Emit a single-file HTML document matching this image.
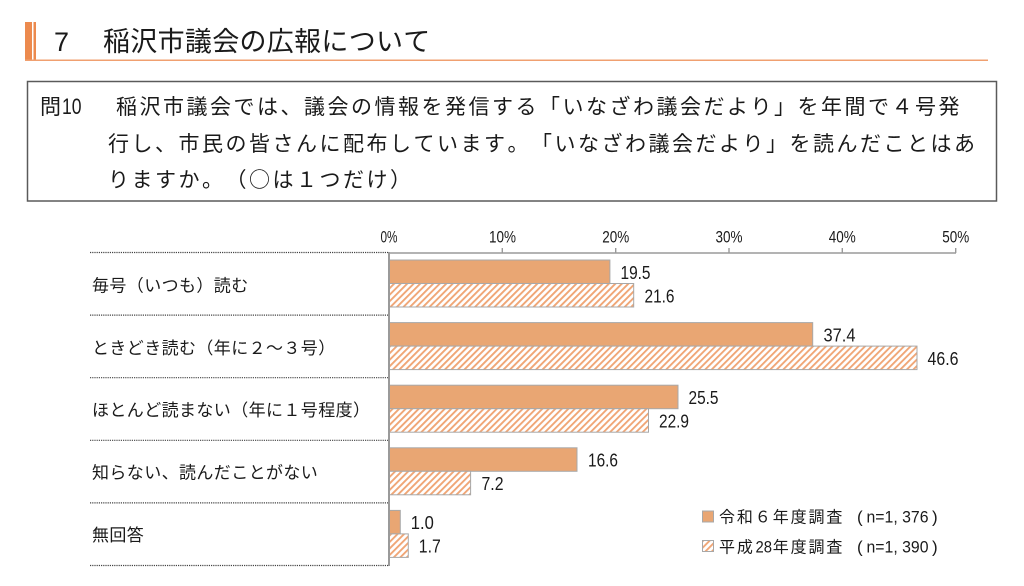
<!DOCTYPE html>
<html><head><meta charset="utf-8">
<style>
html,body{margin:0;padding:0;background:#fff;}
svg{display:block;}
text{text-spacing-trim:space-all;font-kerning:none;}
.jp{font-family:"Noto Sans CJK JP","Liberation Sans",sans-serif;fill:#1a1a1a;}
.num{font-family:"Liberation Sans",sans-serif;fill:#1a1a1a;}
</style></head>
<body>
<svg width="1024" height="586" viewBox="0 0 1024 586" xmlns="http://www.w3.org/2000/svg">
<defs>
<pattern id="hatch" patternUnits="userSpaceOnUse" width="4.6" height="10" patternTransform="rotate(45)">
<rect x="0" y="0" width="4.6" height="10" fill="#ffffff"/>
<rect x="0" y="0" width="1.9" height="10" fill="#f0a676"/>
</pattern>
</defs>

<!-- header -->
<rect x="25" y="22" width="7" height="38" fill="#ec8a4e"/>
<rect x="33.5" y="22" width="2.5" height="38" fill="#ec8a4e"/>
<rect x="25" y="59.5" width="963" height="1.5" fill="#f0a070"/>
<text class="num" x="54" y="51" font-size="27">7</text>
<text class="jp" x="103 130.3 157.6 184.9 212.2 239.5 266.8 294.1 321.4 348.7 376 403.3" y="51" font-size="27">稲沢市議会の広報について</text>

<!-- question box -->
<rect x="27.5" y="81.5" width="969" height="119.5" fill="none" stroke="#5a5a5a" stroke-width="1.5"/>
<text class="jp" x="40" y="114" font-size="21">問</text>
<text class="num" x="62" y="114" font-size="22" textLength="19.5" lengthAdjust="spacingAndGlyphs">10</text>
<text class="jp" x="116 139.5 163 186.5 210 233.5 257 280.5 304 327.5 351 374.5 398 421.5 445 468.5 492 515.5 539 562.5 586 609.5 633 656.5 680 703.5 727 750.5 774 797.5 821 844.5 868 891.5 915 938.5" y="114" font-size="21">稲沢市議会では、議会の情報を発信する「いなざわ議会だより」を年間で４号発</text>
<text class="jp" x="108 131.5 155 178.5 202 225.5 249 272.5 296 319.5 343 366.5 390 413.5 437 460.5 484 507.5 531 554.5 578 601.5 625 648.5 672 695.5 719 742.5 766 789.5 813 836.5 860 883.5 907 930.5 954" y="151" font-size="21">行し、市民の皆さんに配布しています。「いなざわ議会だより」を読んだことはあ</text>
<text class="jp" x="108 131.5 155 178.5 202 225.5 249 272.5 296 319.5 343 366.5 390" y="187" font-size="21">りますか。（○は１つだけ）</text>

<!-- tick labels -->
<g class="num" font-size="17">
<text x="380.5" y="242.5" textLength="17" lengthAdjust="spacingAndGlyphs">0%</text>
<text x="489" y="242.5" textLength="27" lengthAdjust="spacingAndGlyphs">10%</text>
<text x="602.2" y="242.5" textLength="27" lengthAdjust="spacingAndGlyphs">20%</text>
<text x="715.5" y="242.5" textLength="27" lengthAdjust="spacingAndGlyphs">30%</text>
<text x="828.8" y="242.5" textLength="27" lengthAdjust="spacingAndGlyphs">40%</text>
<text x="942.2" y="242.5" textLength="27" lengthAdjust="spacingAndGlyphs">50%</text>
</g>

<!-- separators -->
<g stroke="#444" stroke-width="1.2" stroke-dasharray="1.2 1" fill="none">
<line x1="90" y1="252.5" x2="389" y2="252.5"/>
<line x1="90" y1="315.1" x2="389" y2="315.1"/>
<line x1="90" y1="377.7" x2="389" y2="377.7"/>
<line x1="90" y1="440.3" x2="389" y2="440.3"/>
<line x1="90" y1="502.9" x2="389" y2="502.9"/>
<line x1="90" y1="565.5" x2="389" y2="565.5"/>
</g>

<!-- bars -->
<g stroke="#a8a8a8" stroke-width="1">
<rect x="389" y="260" width="220.9" height="23.5" fill="#e9a673"/>
<rect x="389" y="283.5" width="244.7" height="23.5" fill="url(#hatch)"/>
<rect x="389" y="322.6" width="423.7" height="23.5" fill="#e9a673"/>
<rect x="389" y="346.1" width="528" height="23.5" fill="url(#hatch)"/>
<rect x="389" y="385.2" width="289" height="23.5" fill="#e9a673"/>
<rect x="389" y="408.7" width="259.5" height="23.5" fill="url(#hatch)"/>
<rect x="389" y="447.8" width="188" height="23.5" fill="#e9a673"/>
<rect x="389" y="471.3" width="81.6" height="23.5" fill="url(#hatch)"/>
<rect x="389" y="510.4" width="11.3" height="23.5" fill="#e9a673"/>
<rect x="389" y="533.9" width="19.3" height="23.5" fill="url(#hatch)"/>
</g>

<!-- axes -->
<line x1="389" y1="253" x2="956" y2="253" stroke="#9a9a9a" stroke-width="1.6"/>
<line x1="389" y1="252" x2="389" y2="566" stroke="#9a9a9a" stroke-width="2"/>
<g stroke="#9a9a9a" stroke-width="1.4">
<line x1="502.3" y1="248" x2="502.3" y2="253"/>
<line x1="615.7" y1="248" x2="615.7" y2="253"/>
<line x1="729" y1="248" x2="729" y2="253"/>
<line x1="842.3" y1="248" x2="842.3" y2="253"/>
<line x1="955.7" y1="248" x2="955.7" y2="253"/>
</g>

<!-- value labels -->
<g class="num" font-size="18">
<text x="620.5" y="278.8" textLength="30" lengthAdjust="spacingAndGlyphs">19.5</text>
<text x="644.5" y="302.3" textLength="30" lengthAdjust="spacingAndGlyphs">21.6</text>
<text x="823.5" y="341.4" textLength="32" lengthAdjust="spacingAndGlyphs">37.4</text>
<text x="927.5" y="364.9" textLength="31" lengthAdjust="spacingAndGlyphs">46.6</text>
<text x="688.5" y="404" textLength="30" lengthAdjust="spacingAndGlyphs">25.5</text>
<text x="659" y="427.5" textLength="30" lengthAdjust="spacingAndGlyphs">22.9</text>
<text x="588" y="466.6" textLength="30" lengthAdjust="spacingAndGlyphs">16.6</text>
<text x="481.5" y="490.1" textLength="22" lengthAdjust="spacingAndGlyphs">7.2</text>
<text x="410.8" y="529.2" textLength="23" lengthAdjust="spacingAndGlyphs">1.0</text>
<text x="418.8" y="552.7" textLength="22" lengthAdjust="spacingAndGlyphs">1.7</text>
</g>

<!-- category labels -->
<g class="jp" font-size="17">
<text x="92 109.4 126.8 144.2 161.6 179 196.4 213.8 231.2" y="291.5">毎号（いつも）読む</text>
<text x="92 109.4 126.8 144.2 161.6 179 196.4 213.8 231.2 248.6 266 283.4 300.8 318.2" y="353.8">ときどき読む（年に２～３号）</text>
<text x="92 109.4 126.8 144.2 161.6 179 196.4 213.8 231.2 248.6 266 283.4 300.8 318.2 335.6 353" y="416">ほとんど読まない（年に１号程度）</text>
<text x="92 109.4 126.8 144.2 161.6 179 196.4 213.8 231.2 248.6 266 283.4 300.8" y="478.7">知らない、読んだことがない</text>
<text x="92 109.4 126.8" y="541.2">無回答</text>
</g>

<!-- legend -->
<rect x="702.5" y="511" width="11" height="11" fill="#e9a673" stroke="#a8a8a8" stroke-width="1"/>
<rect x="702.5" y="540.5" width="11" height="11" fill="url(#hatch)" stroke="#a8a8a8" stroke-width="1"/>
<text class="jp" x="719 736.9 754.8 772.7 790.6 808.5 826.4" y="522.5" font-size="16">令和６年度調査</text>
<text class="jp" x="719 736.9" y="552.5" font-size="16">平成</text>
<text class="num" x="755.5" y="552.5" font-size="16.5" textLength="16.5" lengthAdjust="spacingAndGlyphs">28</text>
<text class="jp" x="772.7 790.6 808.5 826.4" y="552.5" font-size="16">年度調査</text>
<g class="num" font-size="17">
<text x="857" y="522.5">(</text>
<text x="866.5" y="522.5" textLength="62" lengthAdjust="spacingAndGlyphs">n=1, 376</text>
<text x="932" y="522.5">)</text>
<text x="857" y="552.5">(</text>
<text x="866.5" y="552.5" textLength="62" lengthAdjust="spacingAndGlyphs">n=1, 390</text>
<text x="932" y="552.5">)</text>
</g>
</svg>
</body></html>
